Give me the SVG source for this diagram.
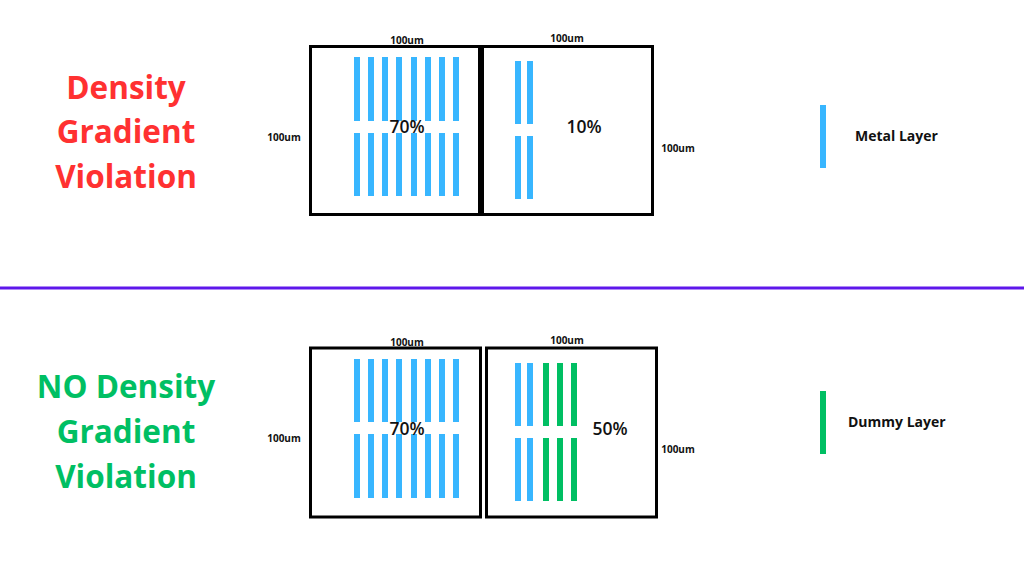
<svg xmlns="http://www.w3.org/2000/svg" width="1024" height="576" viewBox="0 0 1024 576">
<style>
.title{font-family:"Open Sans","Liberation Sans",sans-serif;font-weight:700;font-size:31.5px;text-anchor:middle}
.red{fill:#ff3131}
.green{fill:#00bf63}
.box{fill:none;stroke:#000;stroke-width:3}
.m{fill:#38b6ff}
.d{fill:#00bf63}
.dim{font-family:"Open Sans","Liberation Sans",sans-serif;font-weight:700;font-size:10px;fill:#111;text-anchor:middle}
.pct{font-family:"Open Sans","Liberation Sans",sans-serif;font-weight:600;font-size:17.5px;fill:#111;text-anchor:middle}
.leg{font-family:"Open Sans","Liberation Sans",sans-serif;font-weight:700;font-size:14px;fill:#111}
</style>
<rect width="1024" height="576" fill="#fff"/>
<g id="title-top">
<text class="title red" x="126" y="99">Density</text>
<text class="title red" x="126" y="143">Gradient</text>
<text class="title red" x="126" y="188">Violation</text>
</g>
<g id="title-bottom">
<text class="title green" x="126" y="398">NO Density</text>
<text class="title green" x="126" y="443">Gradient</text>
<text class="title green" x="126" y="488">Violation</text>
</g>
<g id="divider"><line x1="0" y1="288" x2="1024" y2="288" stroke="#5e17eb" stroke-width="3"/></g>
<g id="top-left-box">
<rect class="box" x="310.5" y="46.5" width="169" height="168"/>
<g class="m">
<rect x="354" y="57" width="6" height="64"/><rect x="368" y="57" width="6" height="64"/><rect x="382" y="57" width="6" height="64"/><rect x="396" y="57" width="6" height="64"/><rect x="411" y="57" width="6" height="64"/><rect x="425" y="57" width="6" height="64"/><rect x="439" y="57" width="6" height="64"/><rect x="453" y="57" width="6" height="64"/>
<rect x="354" y="133" width="6" height="63"/><rect x="368" y="133" width="6" height="63"/><rect x="382" y="133" width="6" height="63"/><rect x="396" y="133" width="6" height="63"/><rect x="411" y="133" width="6" height="63"/><rect x="425" y="133" width="6" height="63"/><rect x="439" y="133" width="6" height="63"/><rect x="453" y="133" width="6" height="63"/>
</g>
<text class="pct" x="407" y="133">70%</text>
<text class="dim" x="407" y="44">100um</text>
<text class="dim" x="284" y="141">100um</text>
</g>
<g id="top-right-box">
<rect class="box" x="482.5" y="46.5" width="170" height="168"/>
<line x1="480.5" y1="45" x2="480.5" y2="216" stroke="#000" stroke-width="5"/>
<g class="m">
<rect x="515" y="61" width="6" height="63"/><rect x="527" y="61" width="6" height="63"/>
<rect x="515" y="136" width="6" height="63"/><rect x="527" y="136" width="6" height="63"/>
</g>
<text class="pct" x="584" y="133">10%</text>
<text class="dim" x="567" y="42">100um</text>
<text class="dim" x="678" y="152">100um</text>
</g>
<g id="bottom-left-box">
<rect class="box" x="310.5" y="348" width="170" height="169"/>
<g class="m">
<rect x="354" y="359" width="6" height="63"/><rect x="368" y="359" width="6" height="63"/><rect x="382" y="359" width="6" height="63"/><rect x="396" y="359" width="6" height="63"/><rect x="411" y="359" width="6" height="63"/><rect x="425" y="359" width="6" height="63"/><rect x="439" y="359" width="6" height="63"/><rect x="453" y="359" width="6" height="63"/>
<rect x="354" y="434" width="6" height="64"/><rect x="368" y="434" width="6" height="64"/><rect x="382" y="434" width="6" height="64"/><rect x="396" y="434" width="6" height="64"/><rect x="411" y="434" width="6" height="64"/><rect x="425" y="434" width="6" height="64"/><rect x="439" y="434" width="6" height="64"/><rect x="453" y="434" width="6" height="64"/>
</g>
<text class="pct" x="407" y="435">70%</text>
<text class="dim" x="407" y="346">100um</text>
<text class="dim" x="284" y="442">100um</text>
</g>
<g id="bottom-right-box">
<rect class="box" x="486.5" y="348" width="170" height="169"/>
<g class="m">
<rect x="515" y="363" width="6" height="63"/><rect x="527" y="363" width="6" height="63"/>
<rect x="515" y="438" width="6" height="63"/><rect x="527" y="438" width="6" height="63"/>
</g>
<g class="d">
<rect x="543" y="363" width="6" height="63"/><rect x="557" y="363" width="6" height="63"/><rect x="571" y="363" width="6" height="63"/>
<rect x="543" y="438" width="6" height="63"/><rect x="557" y="438" width="6" height="63"/><rect x="571" y="438" width="6" height="63"/>
</g>
<text class="pct" x="610" y="435">50%</text>
<text class="dim" x="567" y="344">100um</text>
<text class="dim" x="678" y="453">100um</text>
</g>
<g id="legend-metal">
<rect class="m" x="820" y="105" width="6" height="63"/>
<text class="leg" x="855" y="141">Metal Layer</text>
</g>
<g id="legend-dummy">
<rect class="d" x="820" y="391" width="6" height="63"/>
<text class="leg" x="848" y="427">Dummy Layer</text>
</g>
</svg>
